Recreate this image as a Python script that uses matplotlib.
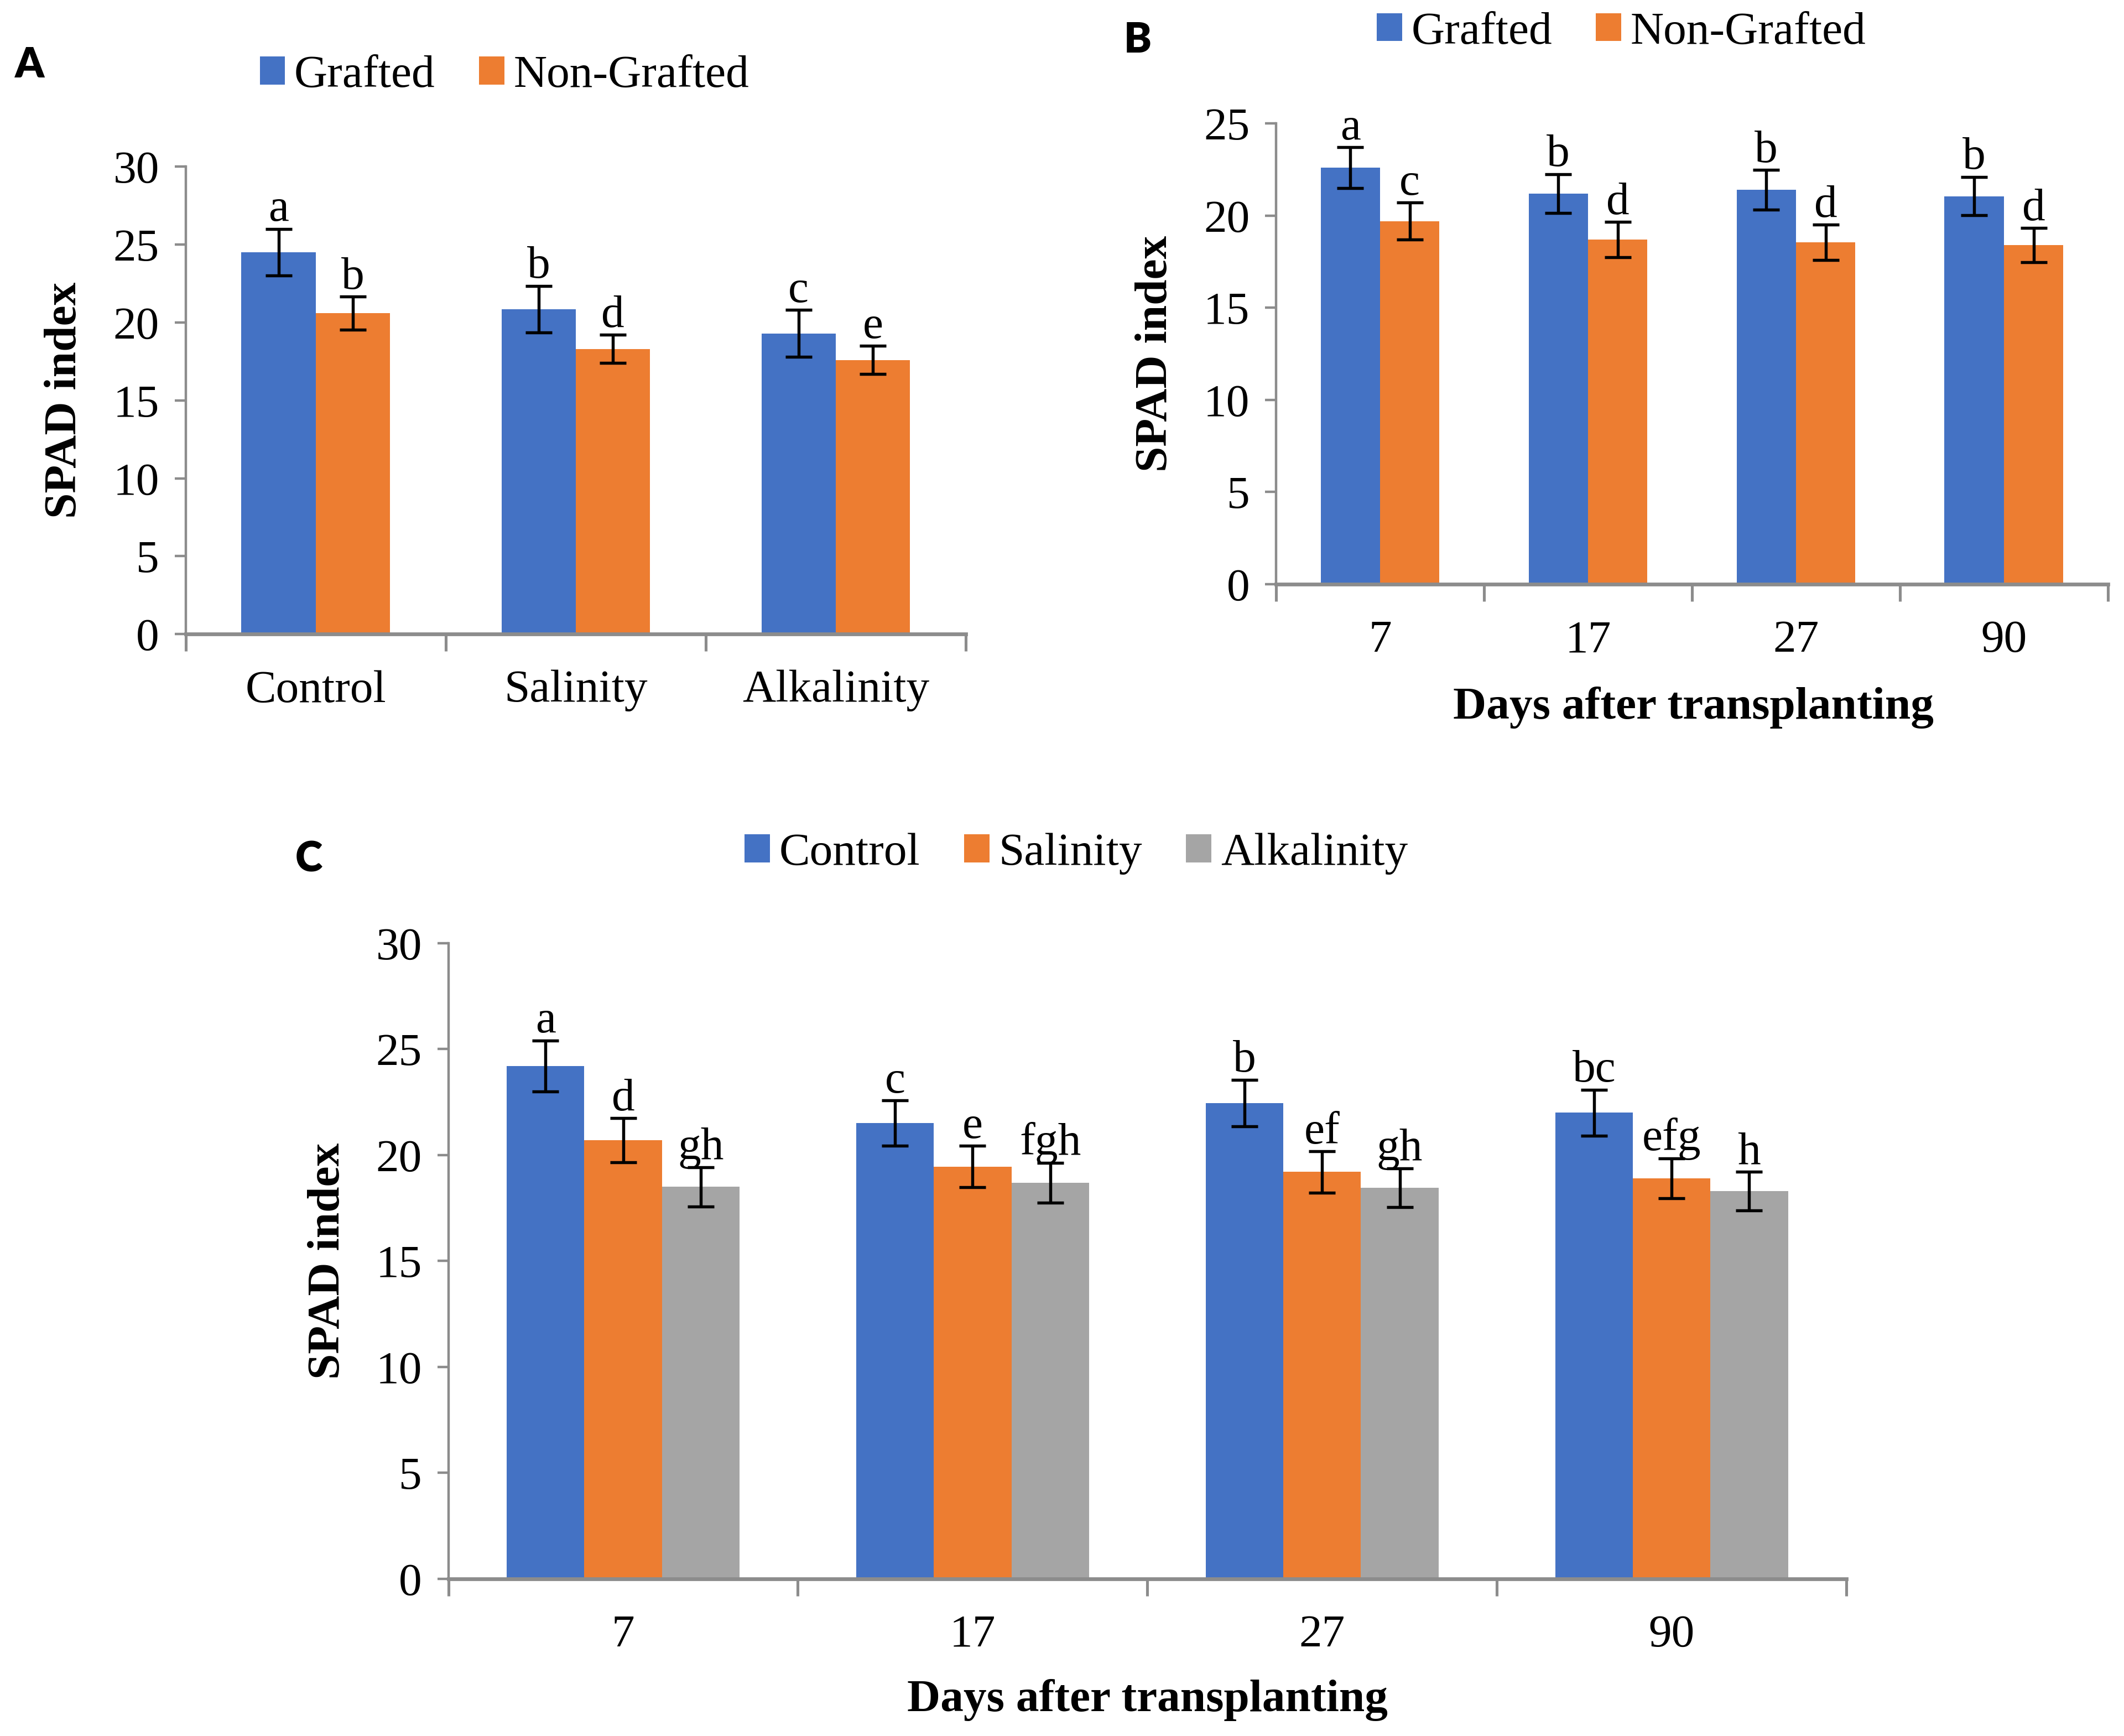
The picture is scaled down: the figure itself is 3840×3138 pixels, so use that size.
import matplotlib
matplotlib.use("Agg")
import matplotlib.pyplot as plt
import numpy as np

plt.rcParams['font.family'] = ['Liberation Serif', 'DejaVu Serif']

BLUE = '#4472C4'
ORANGE = '#ED7D31'
GREY = '#A5A5A5'
AXIS_GREY = '#8C8C8C'

# panel A: treatment x grafting
treatments = ['Control', 'Salinity', 'Alkalinity']
a_grafted = [24.5, 20.85, 19.3]
a_grafted_err = [1.5, 1.5, 1.5]
a_grafted_let = ['a', 'b', 'c']
a_nongrafted = [20.6, 18.3, 17.6]
a_nongrafted_err = [1.05, 0.9, 0.9]
a_nongrafted_let = ['b', 'd', 'e']

# panel B: days x grafting
days = ['7', '17', '27', '90']
b_grafted = [22.6, 21.2, 21.4, 21.05]
b_grafted_err = [1.1, 1.05, 1.07, 1.04]
b_grafted_let = ['a', 'b', 'b', 'b']
b_nongrafted = [19.7, 18.7, 18.55, 18.4]
b_nongrafted_err = [1.0, 0.95, 0.95, 0.92]
b_nongrafted_let = ['c', 'd', 'd', 'd']

# panel C: days x treatment
c_control = [24.2, 21.5, 22.45, 22.0]
c_control_err = [1.2, 1.07, 1.1, 1.08]
c_control_let = ['a', 'c', 'b', 'bc']
c_salinity = [20.7, 19.45, 19.2, 18.9]
c_salinity_err = [1.04, 0.98, 0.97, 0.94]
c_salinity_let = ['d', 'e', 'ef', 'efg']
c_alkalinity = [18.5, 18.7, 18.45, 18.3]
c_alkalinity_err = [0.93, 0.94, 0.92, 0.92]
c_alkalinity_let = ['gh', 'fgh', 'gh', 'h']

FS = 24.5


def draw_panel(ax, cats, series, ymax, width):
    n = len(series)
    x = np.arange(len(cats))
    for i, (name, vals, err, lets, col) in enumerate(series):
        pos = x + (i - (n - 1) / 2) * width
        ax.bar(pos, vals, width, color=col, label=name, zorder=2)
        ax.errorbar(pos, vals, yerr=err, fmt='none', ecolor='black',
                    elinewidth=1.6, capsize=7, capthick=1.6, zorder=3)
        for p, v, e, l in zip(pos, vals, err, lets):
            ax.annotate(l, (p, v + e), xytext=(0, -1), textcoords='offset points',
                        ha='center', va='bottom', fontsize=FS)
    ax.set_xlim(-0.5, len(cats) - 0.5)
    ax.set_ylim(0, ymax)
    ax.set_yticks(np.arange(0, ymax + 1, 5))
    ax.set_xticks(x)
    ax.set_xticklabels(cats)
    ax.set_xticks(np.arange(len(cats) + 1) - 0.5, minor=True)
    ax.tick_params(axis='x', which='major', length=0, pad=19, labelsize=FS)
    ax.tick_params(axis='x', which='minor', length=9, width=1.5, color=AXIS_GREY)
    ax.tick_params(axis='y', length=6, width=1.3, color=AXIS_GREY, pad=8, labelsize=FS)
    for s in ['top', 'right']:
        ax.spines[s].set_visible(False)
    ax.spines['left'].set_color(AXIS_GREY)
    ax.spines['left'].set_linewidth(1.3)
    ax.spines['bottom'].set_color(AXIS_GREY)
    ax.spines['bottom'].set_linewidth(2.0)
    ax.set_ylabel('SPAD index', fontsize=FS, fontweight='bold')


def legend(ax, fig, cx, cy):
    ax.legend(loc='center', bbox_to_anchor=(cx, cy), bbox_transform=fig.transFigure,
              ncol=3, frameon=False, fontsize=FS, handlelength=0.55, handleheight=0.55,
              handletextpad=0.2, columnspacing=0.95)


fig = plt.figure(figsize=(3840 / 245, 3138 / 245), dpi=245)

axA = fig.add_axes([0.0874, 0.6347, 0.3673, 0.2693])
draw_panel(axA, treatments, [
    ('Grafted', a_grafted, a_grafted_err, a_grafted_let, BLUE),
    ('Non-Grafted', a_nongrafted, a_nongrafted_err, a_nongrafted_let, ORANGE),
], 30, 0.2857)
axA.yaxis.set_label_coords(-0.128, 0.5)
legend(axA, fig, 0.2375, 0.9563)

axB = fig.add_axes([0.6008, 0.6635, 0.3916, 0.2654])
draw_panel(axB, days, [
    ('Grafted', b_grafted, b_grafted_err, b_grafted_let, BLUE),
    ('Non-Grafted', b_nongrafted, b_nongrafted_err, b_nongrafted_let, ORANGE),
], 25, 0.2857)
axB.yaxis.set_label_coords(-0.12, 0.5)
axB.set_xlabel('Days after transplanting', fontsize=FS, fontweight='bold')
axB.xaxis.set_label_coords(0.5016, -0.222)
legend(axB, fig, 0.7634, 0.9813)

axC = fig.add_axes([0.2111, 0.0906, 0.6582, 0.3661])
draw_panel(axC, days, [
    ('Control', c_control, c_control_err, c_control_let, BLUE),
    ('Salinity', c_salinity, c_salinity_err, c_salinity_let, ORANGE),
    ('Alkalinity', c_alkalinity, c_alkalinity_err, c_alkalinity_let, GREY),
], 30, 0.222)
axC.yaxis.set_label_coords(-0.071, 0.5)
axC.set_xlabel('Days after transplanting', fontsize=FS, fontweight='bold')
axC.xaxis.set_label_coords(0.5, -0.158)
legend(axC, fig, 0.5067, 0.5082)

# panel letters
for lab, x, y in [('A', 0.014, 0.9625), ('B', 0.5357, 0.9766), ('C', 0.1454, 0.505)]:
    fig.text(x, y, lab, fontsize=22, fontweight='heavy', family=['Lato', 'DejaVu Sans'],
             ha='center', va='center')

fig.savefig('out.png', dpi=245)
